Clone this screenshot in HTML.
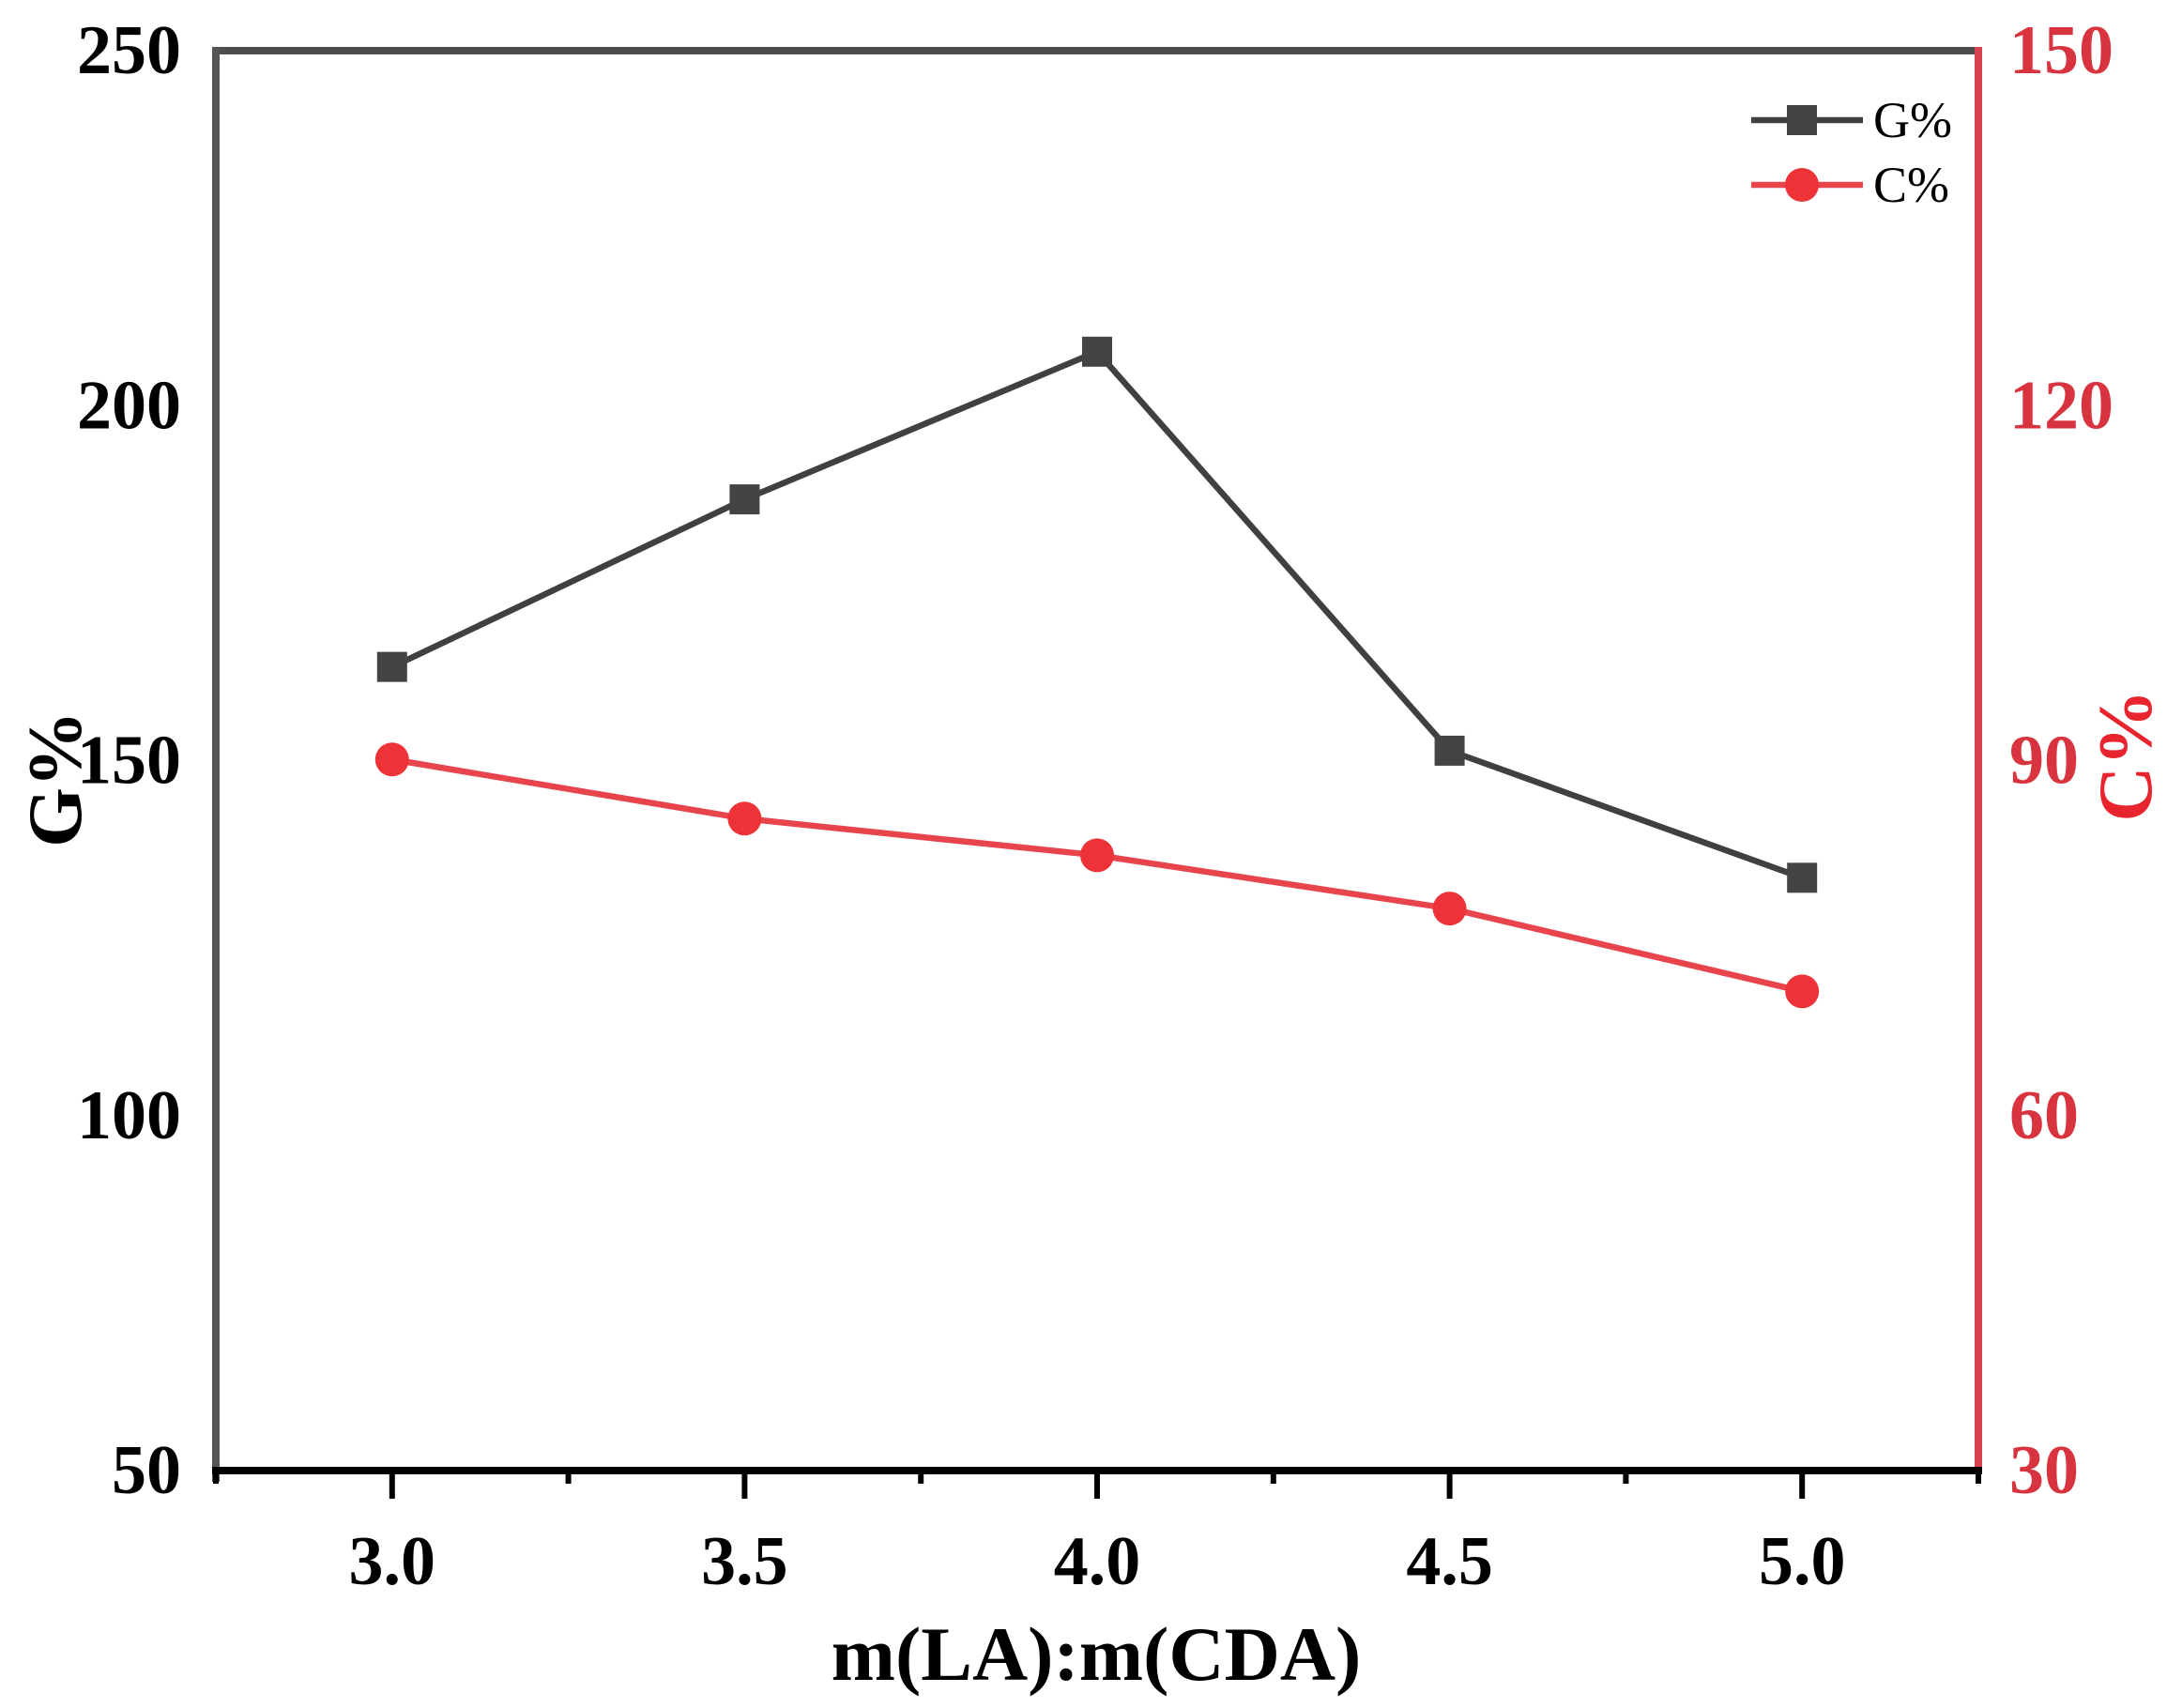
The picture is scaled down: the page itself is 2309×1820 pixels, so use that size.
<!DOCTYPE html>
<html><head><meta charset="utf-8"><style>
html,body{margin:0;padding:0;background:#fff;}
svg{display:block;}
text{font-family:"Liberation Serif",serif;}
</style></head><body>
<svg id="chart" width="2309" height="1820" viewBox="0 0 2309 1820" xmlns="http://www.w3.org/2000/svg"></svg>
<script>
const categories = [3.0, 3.5, 4.0, 4.5, 5.0];
const gValues = [163.2, 186.8, 207.6, 151.4, 133.5];
const cValues = [90.1, 85.1, 82.0, 77.5, 70.5];
const xTickLabels = ["3.0", "3.5", "4.0", "4.5", "5.0"];
const leftTicks = [50, 100, 150, 200, 250];
const rightTicks = [30, 60, 90, 120, 150];

const L = 230, R = 2108, T = 54, B = 1567;
const xMin = 2.75, xMax = 5.25;
const sx = v => L + (v - xMin) / (xMax - xMin) * (R - L);
const syL = v => B - (v - 50) / 200 * (B - T);
const syR = v => B - (v - 30) / 120 * (B - T);
const svg = document.getElementById('chart');
const NS = 'http://www.w3.org/2000/svg';
function mk(tag, attrs, parent) {
  const e = document.createElementNS(NS, tag);
  for (const k in attrs) e.setAttribute(k, attrs[k]);
  (parent || svg).appendChild(e);
  return e;
}

let e;
e = mk('line', {x1: L, y1: T, x2: R, y2: T, stroke: '#4d4d4d', 'stroke-width': 8});


e = mk('line', {x1: L, y1: T - 4, x2: L, y2: B + 12, stroke: '#555', 'stroke-width': 8});


e = mk('line', {x1: R, y1: T - 4, x2: R, y2: B, stroke: '#d8434f', 'stroke-width': 8});


e = mk('line', {x1: L - 4, y1: B, x2: R + 4, y2: B, stroke: '#000', 'stroke-width': 8});



for (let i = 0; i < categories.length; i++) {
  const x = sx(categories[i]);
  e = mk('line', {x1: x, y1: B, x2: x, y2: B + 30, stroke: '#000', 'stroke-width': 6});
  
  
  e = mk('text', {x: x, y: 1688, 'font-size': 74, 'font-weight': 'bold', 'text-anchor': 'middle', fill: '#000'});
  e.textContent = xTickLabels[i];
  
  
}
for (let v = xMin; v <= xMax + 0.001; v += 0.25) {
  if (Math.abs((v * 2) - Math.round(v * 2)) < 0.01 && v >= 3 && v <= 5) continue;
  const x = sx(v);
  e = mk('line', {x1: x, y1: B, x2: x, y2: B + 14, stroke: '#000', 'stroke-width': 6});
  
  
}

leftTicks.forEach(v => {
  e = mk('text', {x: 193, y: syL(v) + 24, 'font-size': 74, 'font-weight': 'bold', 'text-anchor': 'end', fill: '#000'});
  e.textContent = v;
  
  
});
rightTicks.forEach(v => {
  e = mk('text', {x: 2141, y: syR(v) + 24, 'font-size': 74, 'font-weight': 'bold', 'text-anchor': 'start', fill: '#d8343f'});
  e.textContent = v;
  
  
});

e = mk('text', {x: 1168, y: 1790, 'font-size': 82, 'font-weight': 'bold', 'text-anchor': 'middle', fill: '#000'});
e.textContent = 'm(LA):m(CDA)';


e = mk('text', {x: 0, y: 0, 'font-size': 82, 'font-weight': 'bold', 'text-anchor': 'middle', fill: '#000', transform: 'translate(86,830) rotate(-90)'});
e.textContent = 'G%';


e = mk('text', {x: 0, y: 0, 'font-size': 82, 'font-weight': 'bold', 'text-anchor': 'middle', fill: '#e8252f', transform: 'translate(2292,805) rotate(-90)'});
e.textContent = 'C%';



const gPts = categories.map((c, i) => sx(c) + ',' + syL(gValues[i])).join(' ');
e = mk('polyline', {points: gPts, fill: 'none', stroke: '#404040', 'stroke-width': 6.5});


const cPts = categories.map((c, i) => sx(c) + ',' + syR(cValues[i])).join(' ');
e = mk('polyline', {points: cPts, fill: 'none', stroke: '#e8444c', 'stroke-width': 6.5});


categories.forEach((c, i) => {
  e = mk('rect', {x: sx(c) - 16, y: syL(gValues[i]) - 16, width: 32, height: 32, fill: '#444'});
  
  
  e = mk('circle', {cx: sx(c), cy: syR(cValues[i]), r: 18, fill: '#ee3338'});
  
  
});

const lg = mk('g', {});


e = mk('line', {x1: 1866, y1: 128, x2: 1985, y2: 128, stroke: '#404040', 'stroke-width': 6.5}, lg);


e = mk('rect', {x: 1904, y: 112, width: 32, height: 32, fill: '#444'}, lg);


e = mk('text', {x: 1996, y: 146, 'font-size': 54, fill: '#000'}, lg);
e.textContent = 'G%';


e = mk('line', {x1: 1866, y1: 197, x2: 1985, y2: 197, stroke: '#e8444c', 'stroke-width': 6.5}, lg);


e = mk('circle', {cx: 1920, cy: 197, r: 18, fill: '#ee3338'}, lg);


e = mk('text', {x: 1996, y: 215, 'font-size': 54, fill: '#000'}, lg);
e.textContent = 'C%';


</script>
</body></html>
